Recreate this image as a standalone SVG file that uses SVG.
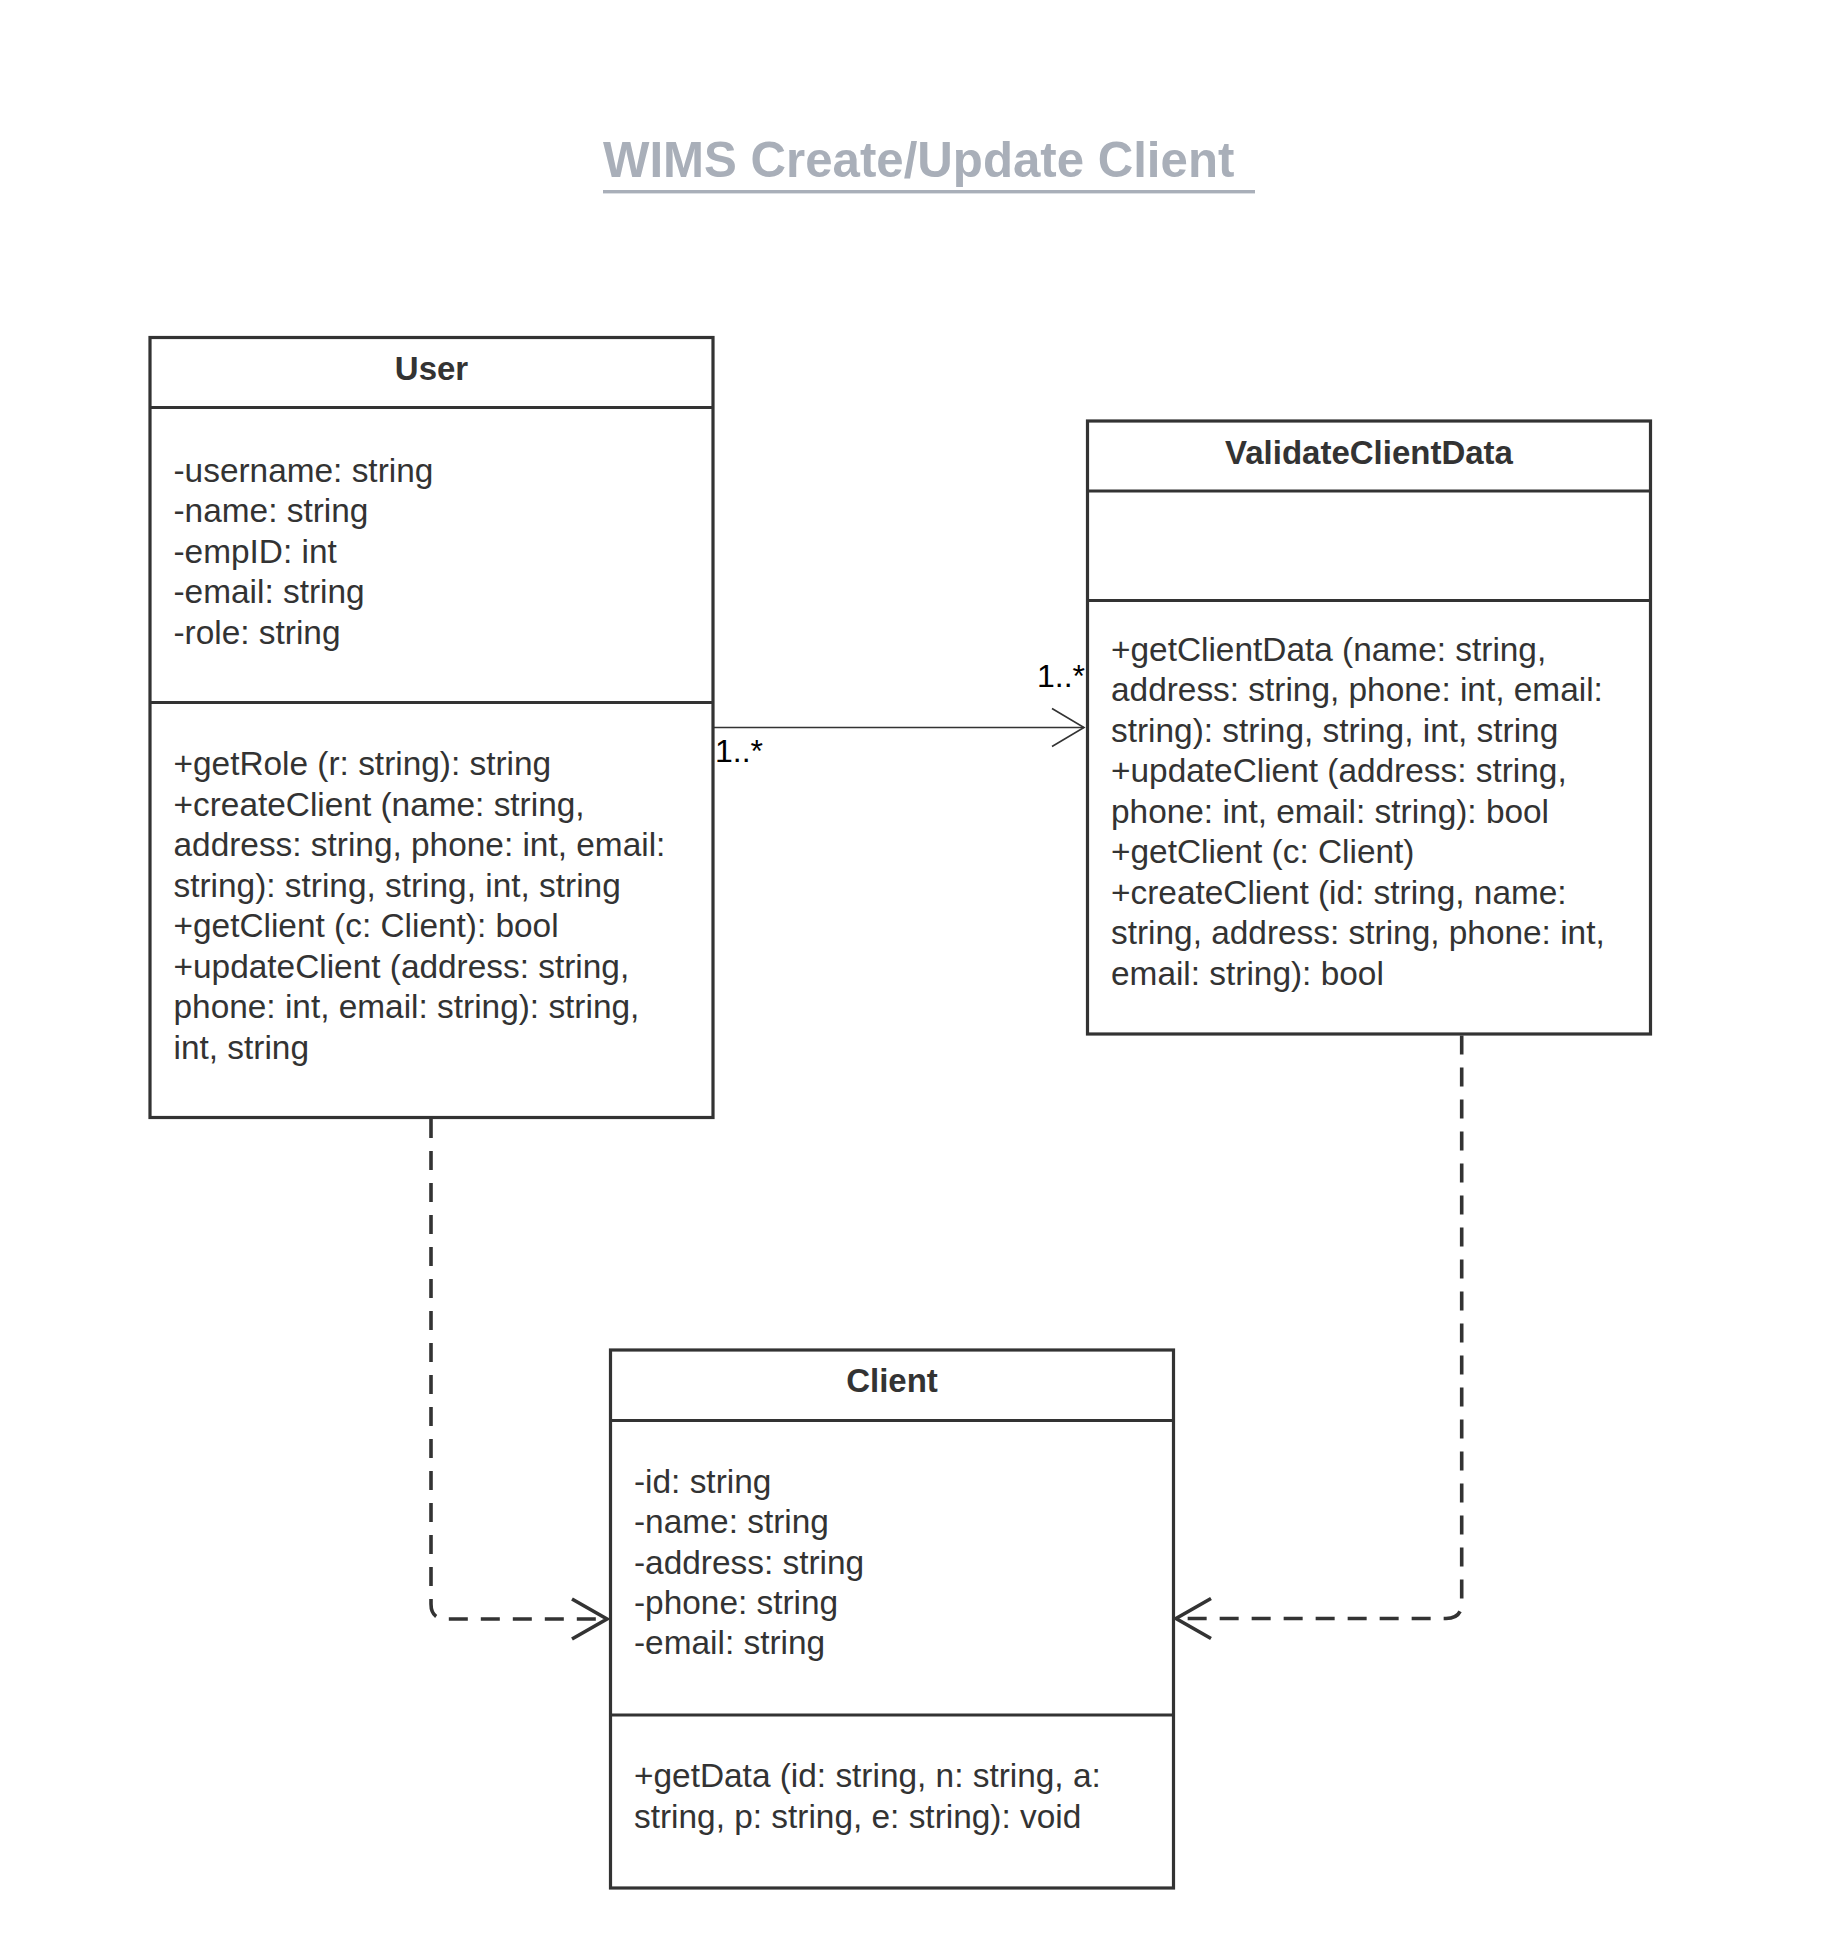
<svg xmlns="http://www.w3.org/2000/svg" width="1823" height="1954" viewBox="0 0 1823 1954">
<style>
.box{fill:#ffffff;stroke:#333333;stroke-width:3.2}
.div{stroke:#333333;stroke-width:3.2}
.hdr{font-family:"Liberation Sans",Arial,sans-serif;font-weight:bold;font-size:33px;fill:#333333;text-anchor:middle}
.txt{font-family:"Liberation Sans",Arial,sans-serif;font-size:33.4px;fill:#333333}
.lbl{font-family:"Liberation Sans",Arial,sans-serif;font-size:32px;fill:#000000}
.dash{fill:none;stroke:#333333;stroke-width:3.6;stroke-dasharray:19 13}
.assoc{fill:none;stroke:#333333;stroke-width:1.6}
</style>
<defs>
<marker id="openArrow" markerUnits="userSpaceOnUse" markerWidth="44" markerHeight="48" refX="36" refY="21" orient="auto" overflow="visible">
<path d="M1,1 L36,21 L1,41" fill="none" stroke="#333333" stroke-width="3.6" stroke-dasharray="none"/>
</marker>
<marker id="thinArrow" markerUnits="userSpaceOnUse" markerWidth="40" markerHeight="44" refX="33" refY="20" orient="auto" overflow="visible">
<path d="M1,1 L33,20 L1,39" fill="none" stroke="#333333" stroke-width="1.6"/>
</marker>
</defs>
<rect width="1823" height="1954" fill="#ffffff"/>
<g id="title">
<text x="603" y="177" font-family="Liberation Sans, Arial, sans-serif" font-weight="bold" font-size="49.2" fill="#a9afb9">WIMS Create/Update Client</text>
<rect x="603" y="190" width="652" height="3.4" fill="#a9afb9"/>
</g>
<g id="connectors">
<path class="assoc" d="M713,727.5 H1084" marker-end="url(#thinArrow)"/>
<text class="lbl" x="715" y="762">1..*</text>
<text class="lbl" x="1037" y="687">1..*</text>
<path class="dash" d="M431,1119 V1604 Q431,1619 446,1619 H607" marker-end="url(#openArrow)"/>
<path class="dash" d="M1461.7,1035.5 V1603 Q1461.7,1618.5 1446,1618.5 H1176" marker-end="url(#openArrow)"/>
</g>
<g id="node-user">
<rect class="box" x="150" y="337.5" width="563" height="780"/>
<line class="div" x1="150" y1="407.5" x2="713" y2="407.5"/>
<line class="div" x1="150" y1="702.5" x2="713" y2="702.5"/>
<text class="hdr" x="431.5" y="380">User</text>
<text class="txt" x="173.5" y="481.7">-username: string</text>
<text class="txt" x="173.5" y="522.2">-name: string</text>
<text class="txt" x="173.5" y="562.7">-empID: int</text>
<text class="txt" x="173.5" y="603.2">-email: string</text>
<text class="txt" x="173.5" y="643.7">-role: string</text>
<text class="txt" x="173.5" y="775">+getRole (r: string): string</text>
<text class="txt" x="173.5" y="815.5">+createClient (name: string,</text>
<text class="txt" x="173.5" y="856">address: string, phone: int, email:</text>
<text class="txt" x="173.5" y="896.5">string): string, string, int, string</text>
<text class="txt" x="173.5" y="937">+getClient (c: Client): bool</text>
<text class="txt" x="173.5" y="977.5">+updateClient (address: string,</text>
<text class="txt" x="173.5" y="1018">phone: int, email: string): string,</text>
<text class="txt" x="173.5" y="1058.5">int, string</text>
</g>
<g id="node-validateclientdata">
<rect class="box" x="1087.5" y="421" width="563" height="613"/>
<line class="div" x1="1087.5" y1="491" x2="1650.5" y2="491"/>
<line class="div" x1="1087.5" y1="600.5" x2="1650.5" y2="600.5"/>
<text class="hdr" x="1369" y="463.5">ValidateClientData</text>
<text class="txt" x="1111" y="660.5">+getClientData (name: string,</text>
<text class="txt" x="1111" y="701">address: string, phone: int, email:</text>
<text class="txt" x="1111" y="741.5">string): string, string, int, string</text>
<text class="txt" x="1111" y="782">+updateClient (address: string,</text>
<text class="txt" x="1111" y="822.5">phone: int, email: string): bool</text>
<text class="txt" x="1111" y="863">+getClient (c: Client)</text>
<text class="txt" x="1111" y="903.5">+createClient (id: string, name:</text>
<text class="txt" x="1111" y="944">string, address: string, phone: int,</text>
<text class="txt" x="1111" y="984.5">email: string): bool</text>
</g>
<g id="node-client">
<rect class="box" x="610.5" y="1350" width="563" height="538"/>
<line class="div" x1="610.5" y1="1420.5" x2="1173.5" y2="1420.5"/>
<line class="div" x1="610.5" y1="1715" x2="1173.5" y2="1715"/>
<text class="hdr" x="892" y="1392">Client</text>
<text class="txt" x="634" y="1493">-id: string</text>
<text class="txt" x="634" y="1533.3">-name: string</text>
<text class="txt" x="634" y="1573.6">-address: string</text>
<text class="txt" x="634" y="1614">-phone: string</text>
<text class="txt" x="634" y="1654.3">-email: string</text>
<text class="txt" x="634" y="1787">+getData (id: string, n: string, a:</text>
<text class="txt" x="634" y="1827.5">string, p: string, e: string): void</text>
</g>
</svg>
